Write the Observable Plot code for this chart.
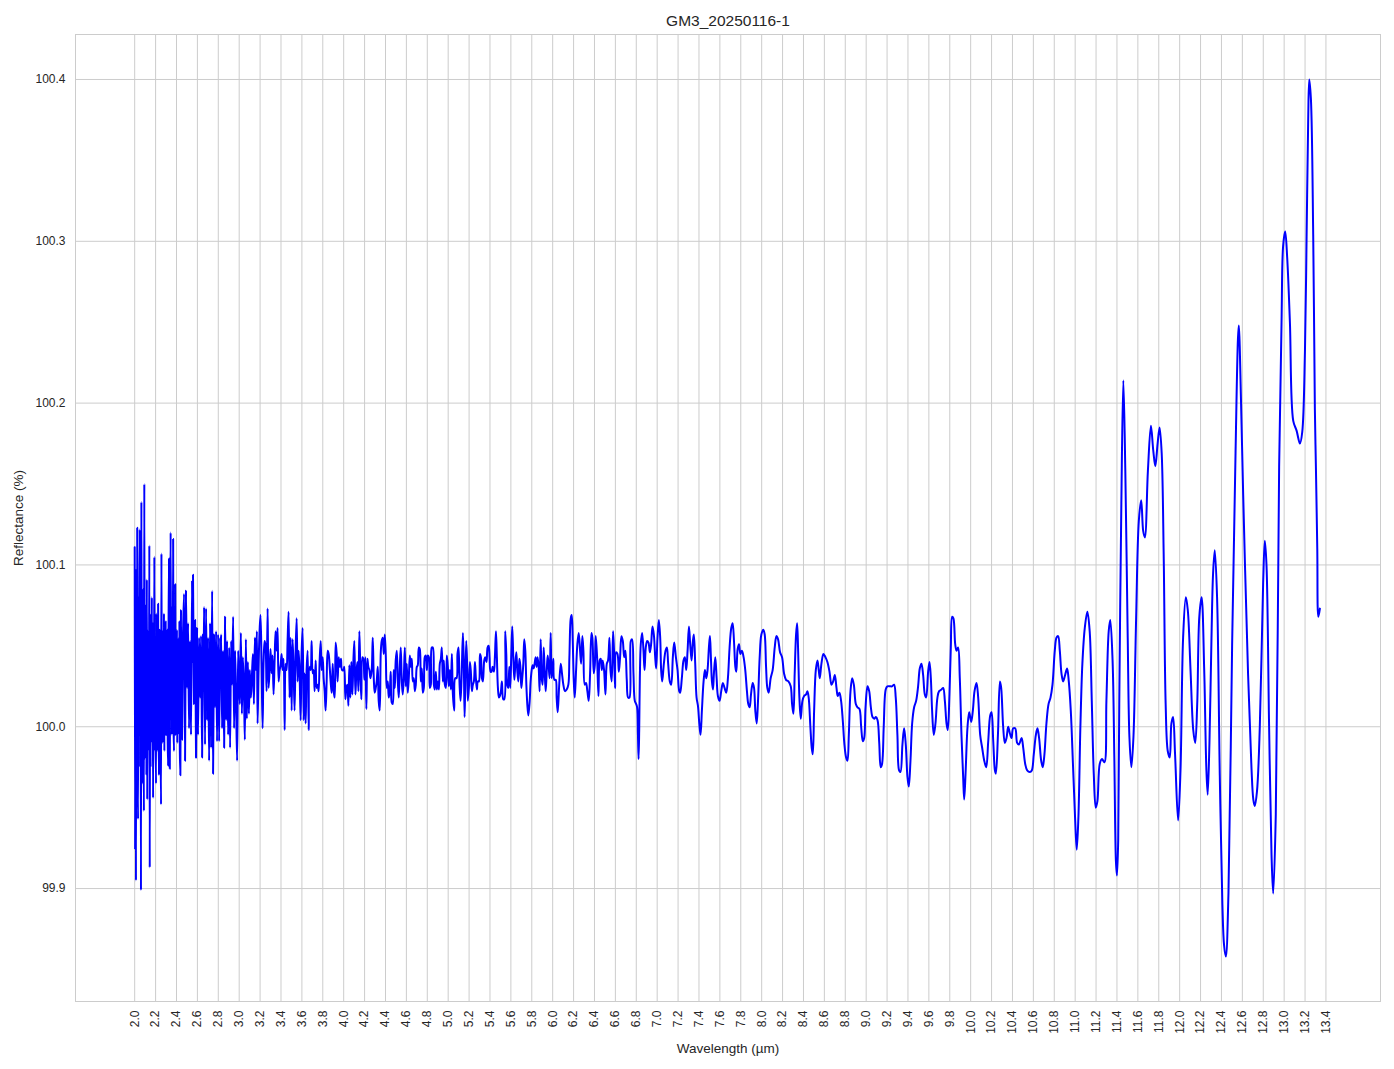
<!DOCTYPE html>
<html>
<head>
<meta charset="utf-8">
<script src="https://cdn.jsdelivr.net/npm/d3@7"></script>
<script src="https://cdn.jsdelivr.net/npm/@observablehq/plot@0.6"></script>
<style>
  html, body { margin: 0; padding: 0; background: #ffffff; }
  #chart { width: 1394px; height: 1069px; }
</style>
</head>
<body>
<div id="chart"></div>
<script>
const chartTitle = "GM3_20250116-1";
const xLabel = "Wavelength (µm)";
const yLabel = "Reflectance (%)";

const xTicks = [2.0,2.2,2.4,2.6,2.8,3.0,3.2,3.4,3.6,3.8,4.0,4.2,4.4,4.6,4.8,5.0,5.2,5.4,5.6,5.8,6.0,6.2,6.4,6.6,6.8,7.0,7.2,7.4,7.6,7.8,8.0,8.2,8.4,8.6,8.8,9.0,9.2,9.4,9.6,9.8,10.0,10.2,10.4,10.6,10.8,11.0,11.2,11.4,11.6,11.8,12.0,12.2,12.4,12.6,12.8,13.0,13.2,13.4];
const yTicks = [99.9, 100.0, 100.1, 100.2, 100.3, 100.4];

// [wavelength µm, reflectance %]
const seg2_0 = [
[2.000,100.111],[2.004,99.924],[2.008,100.098],[2.012,99.905],[2.016,100.072],[2.020,99.985],[2.024,100.123],[2.028,99.970],
[2.032,99.943],[2.036,100.080],[2.040,99.995],[2.044,100.060],[2.048,100.122],[2.052,99.975],[2.056,100.070],[2.060,99.899],
[2.064,100.139],[2.068,99.990],[2.072,100.050],[2.076,99.965],[2.080,100.085],[2.084,100.005],[2.088,99.948],[2.092,100.150],
[2.096,99.980],[2.100,100.065],[2.104,100.000],[2.108,100.075],[2.112,99.970],[2.116,100.091],[2.120,99.955],[2.124,100.060],
[2.128,99.990],[2.132,100.045],[2.136,99.985],[2.140,100.112],[2.144,99.913],[2.148,100.070],[2.152,99.975],[2.156,100.055],
[2.160,99.995],[2.164,100.080],[2.168,99.990],[2.172,100.050],[2.176,99.956],[2.180,100.065],[2.184,100.000],[2.188,100.105],
[2.192,99.985],[2.196,100.045],[2.200,99.990],[2.204,99.965],[2.208,100.070],[2.212,100.005],[2.216,100.050],[2.220,99.985],
[2.224,100.076],[2.228,100.000],[2.232,99.970],[2.236,100.060],[2.240,100.010],[2.244,100.055],[2.248,99.985],[2.252,99.952],
[2.256,100.107],[2.260,100.000],[2.264,100.060],[2.268,99.990],[2.272,100.045],[2.276,100.010],[2.280,100.070],[2.284,99.985],
[2.288,100.050],[2.292,100.005],[2.296,100.065],[2.300,99.995],[2.304,100.040],[2.308,100.010],[2.312,100.060],[2.316,99.990],
[2.320,99.976],[2.324,100.060],[2.328,100.104],[2.332,100.000],[2.336,99.974],[2.340,100.070],[2.344,100.120],[2.348,100.005],
[2.352,100.050],[2.356,99.995],[2.360,100.075],[2.364,100.010],[2.368,100.116],[2.372,100.000],[2.376,99.985],[2.380,100.060],
[2.384,100.010],[2.388,100.088],[2.392,99.995],[2.396,100.050],[2.400,100.005],[2.404,100.060],[2.408,99.990],[2.412,100.045],
[2.416,100.010],[2.420,100.055],[2.424,99.995],[2.428,100.065],[2.432,99.985]
];
const seg2_4 = [
[2.437,99.970],[2.443,100.072],[2.453,99.992],[2.463,100.059],[2.472,100.082],[2.482,99.979],[2.491,100.084],[2.501,100.024],
[2.511,100.064],[2.520,99.999],[2.530,100.053],[2.539,99.995],[2.549,100.090],[2.554,100.040],[2.558,100.094],[2.568,100.014],
[2.578,100.066],[2.587,99.981],[2.597,100.061],[2.606,99.995],[2.616,100.055],[2.626,100.018],[2.635,100.056],[2.645,99.981],
[2.654,100.057],[2.659,100.030],[2.664,100.074],[2.673,99.989],[2.683,100.073],[2.693,100.004],[2.702,100.055],[2.712,99.979],
[2.721,100.064],[2.731,99.987],[2.741,100.084],[2.750,99.971],[2.760,100.057],[2.769,100.012],[2.779,100.059],[2.788,99.991],
[2.798,100.057],[2.808,99.991],[2.817,100.055],[2.822,100.030],[2.827,100.057],[2.836,99.999],[2.846,100.047],[2.856,99.987],
[2.865,100.068],[2.875,100.004],[2.884,100.053],[2.894,99.995],[2.904,100.049],[2.913,99.987],[2.923,100.053],[2.932,100.026],
[2.942,100.068],[2.951,99.999],[2.961,100.047],[2.971,100.012],[2.980,99.979],[2.990,100.047],[2.997,100.030]
];
const seg3_0 = [
[3.006,100.014],[3.016,100.058],[3.026,100.008],[3.035,100.043],[3.045,100.025],[3.054,99.992],[3.064,100.054],[3.073,100.005],
[3.083,100.040],[3.093,100.008],[3.102,100.035],[3.112,100.018],[3.121,100.030],[3.131,100.045],[3.141,100.014],[3.150,100.055],
[3.160,100.035],[3.169,100.059],[3.176,100.002],[3.185,100.035],[3.195,100.059],[3.204,100.069],[3.214,100.039],[3.224,99.999],
[3.233,100.039],[3.243,100.053],[3.252,100.050],[3.262,100.022],[3.272,100.073],[3.281,100.024],[3.291,100.035],[3.300,100.048],
[3.310,100.033],[3.319,100.044],[3.329,100.020],[3.339,100.041],[3.348,100.059],[3.358,100.047],[3.367,100.061],[3.377,100.028],
[3.387,100.035],[3.396,100.038],[3.406,100.045],[3.415,100.035],[3.425,100.042],[3.435,99.998],[3.444,100.039],[3.454,100.035],
[3.463,100.053],[3.473,100.071],[3.482,100.018],[3.492,100.055],[3.502,100.010],[3.511,100.054],[3.521,100.035],[3.530,100.010],
[3.540,100.047],[3.550,100.067],[3.559,100.028],[3.569,100.047],[3.578,100.033],[3.588,100.004],[3.597,100.045],[3.607,100.061],
[3.617,100.004],[3.626,100.033],[3.636,100.002],[3.645,100.035],[3.655,100.047],[3.665,99.998],[3.674,100.037],[3.684,100.035],
[3.693,100.053],[3.703,100.033],[3.712,100.035],[3.722,100.022],[3.732,100.041],[3.741,100.024],[3.751,100.026],[3.760,100.022],
[3.770,100.041],[3.780,100.053],[3.789,100.035],[3.799,100.043],[3.808,100.030],[3.818,100.022],[3.827,100.010],[3.837,100.028],
[3.847,100.047],[3.856,100.045],[3.866,100.037],[3.875,100.028],[3.885,100.021],[3.895,100.039],[3.904,100.022],[3.914,100.018],
[3.923,100.052],[3.933,100.045],[3.942,100.028],[3.952,100.043],[3.962,100.037],[3.974,100.042],[3.984,100.035],[3.997,100.035]
];
const seg4_0 = [
[4.006,100.037],[4.016,100.017],[4.026,100.024],[4.035,100.026],[4.045,100.013],[4.054,100.038],[4.064,100.018],[4.073,100.040],
[4.083,100.020],[4.093,100.041],[4.102,100.053],[4.112,100.020],[4.121,100.033],[4.131,100.040],[4.141,100.022],[4.150,100.059],
[4.160,100.033],[4.169,100.017],[4.179,100.043],[4.188,100.042],[4.198,100.029],[4.208,100.043],[4.217,100.011],[4.227,100.042],
[4.236,100.037],[4.246,100.035],[4.256,100.030],[4.268,100.035],[4.278,100.055],[4.288,100.030],[4.297,100.021],[4.307,100.024],
[4.316,100.028],[4.326,100.037],[4.335,100.016],[4.345,100.010],[4.355,100.046],[4.364,100.053],[4.374,100.055],[4.383,100.045],
[4.393,100.057],[4.403,100.044],[4.412,100.024],[4.422,100.028],[4.431,100.018],[4.441,100.022],[4.450,100.034],[4.460,100.015],
[4.470,100.014],[4.479,100.035],[4.489,100.024],[4.498,100.041],[4.508,100.047],[4.518,100.028],[4.527,100.018],[4.537,100.037],
[4.546,100.049],[4.556,100.028],[4.565,100.020],[4.575,100.030],[4.585,100.049],[4.594,100.025],[4.604,100.039],[4.613,100.021],
[4.623,100.030],[4.633,100.044],[4.642,100.037],[4.652,100.042],[4.661,100.028],[4.671,100.030],[4.681,100.022],[4.690,100.026],
[4.700,100.037],[4.709,100.038],[4.719,100.049],[4.728,100.048],[4.738,100.028],[4.748,100.036],[4.757,100.021],[4.767,100.024],
[4.776,100.043],[4.786,100.044],[4.796,100.035],[4.805,100.044],[4.815,100.043],[4.824,100.024],[4.834,100.026],[4.843,100.049],
[4.853,100.049],[4.863,100.026],[4.872,100.023],[4.882,100.034],[4.891,100.023],[4.901,100.028],[4.911,100.023],[4.920,100.039],
[4.930,100.042],[4.939,100.049],[4.949,100.028],[4.958,100.041],[4.968,100.026],[4.978,100.024],[4.987,100.044],[4.997,100.037]
];
const seg5_0 = [
[5.006,100.025],[5.016,100.035],[5.026,100.023],[5.035,100.045],[5.045,100.020],[5.058,100.010],[5.067,100.030],[5.080,100.030],
[5.089,100.045],[5.099,100.049],[5.109,100.026],[5.118,100.016],[5.128,100.030],[5.141,100.058],[5.150,100.037],[5.157,100.006],
[5.163,100.026],[5.173,100.053],[5.182,100.037],[5.188,100.016],[5.198,100.024],[5.208,100.040],[5.217,100.034],[5.227,100.022],
[5.236,100.026],[5.246,100.028],[5.256,100.040],[5.265,100.030],[5.275,100.023],[5.284,100.028],[5.294,100.028],[5.304,100.045],
[5.313,100.043],[5.323,100.030],[5.332,100.028],[5.345,100.041],[5.355,100.043],[5.367,100.040],[5.377,100.049],[5.387,100.050],
[5.396,100.043],[5.406,100.034],[5.415,100.034],[5.425,100.037],[5.438,100.034],[5.447,100.043],[5.457,100.059],[5.466,100.043],
[5.476,100.024],[5.486,100.018],[5.495,100.019],[5.505,100.022],[5.514,100.028],[5.527,100.017],[5.537,100.017],[5.546,100.059],
[5.556,100.045],[5.565,100.026],[5.575,100.024],[5.585,100.037],[5.594,100.024],[5.604,100.045],[5.613,100.062],[5.623,100.043],
[5.633,100.029],[5.642,100.038],[5.652,100.046],[5.661,100.035],[5.671,100.028],[5.681,100.042],[5.690,100.038],[5.700,100.024],
[5.709,100.030],[5.719,100.039],[5.728,100.054],[5.738,100.047],[5.748,100.026],[5.757,100.014],[5.767,100.007],[5.780,100.016],
[5.789,100.028],[5.799,100.035],[5.808,100.038],[5.818,100.036],[5.827,100.039],[5.837,100.043],[5.847,100.037],[5.856,100.043],
[5.866,100.037],[5.875,100.022],[5.885,100.054],[5.895,100.030],[5.904,100.026],[5.914,100.049],[5.923,100.035],[5.933,100.022],
[5.942,100.033],[5.952,100.044],[5.962,100.037],[5.971,100.030],[5.981,100.058],[5.990,100.030]
];
const seg6_0 = [
[6.006,100.042],[6.016,100.029],[6.029,100.029],[6.038,100.018],[6.048,100.009],[6.061,100.024],[6.077,100.039],[6.089,100.033],
[6.102,100.026],[6.118,100.022],[6.134,100.023],[6.150,100.026],[6.160,100.043],[6.173,100.067],[6.182,100.069],[6.192,100.053],
[6.201,100.030],[6.211,100.018],[6.224,100.035],[6.236,100.051],[6.249,100.058],[6.262,100.047],[6.272,100.039],[6.284,100.056],
[6.294,100.047],[6.307,100.026],[6.319,100.027],[6.332,100.022],[6.345,100.016],[6.358,100.033],[6.371,100.058],[6.380,100.055],
[6.393,100.033],[6.403,100.038],[6.412,100.056],[6.425,100.043],[6.438,100.019],[6.450,100.041],[6.460,100.042],[6.470,100.035],
[6.479,100.041],[6.492,100.035],[6.505,100.020],[6.518,100.039],[6.530,100.041],[6.543,100.055],[6.553,100.035],[6.565,100.028],
[6.578,100.059],[6.588,100.045],[6.597,100.024],[6.607,100.046],[6.620,100.045],[6.633,100.034],[6.645,100.043],[6.658,100.056],
[6.671,100.053],[6.684,100.043],[6.696,100.047],[6.709,100.029],[6.722,100.018],[6.735,100.018],[6.748,100.053],[6.760,100.054],
[6.773,100.033],[6.786,100.016],[6.799,100.014],[6.808,100.012],[6.816,99.995],[6.822,99.980],[6.828,99.998],[6.834,100.030],
[6.843,100.051],[6.856,100.058],[6.869,100.047],[6.879,100.035],[6.891,100.049],[6.904,100.053],[6.917,100.052],[6.930,100.046],
[6.942,100.051],[6.955,100.062],[6.968,100.057],[6.981,100.043],[6.990,100.036]
];
const seg7_0 = [
[7.003,100.055],[7.016,100.066],[7.029,100.055],[7.038,100.035],[7.048,100.028],[7.064,100.039],[7.080,100.047],[7.093,100.049],
[7.105,100.039],[7.121,100.028],[7.134,100.026],[7.150,100.043],[7.163,100.052],[7.179,100.043],[7.195,100.035],[7.211,100.022],
[7.220,100.021],[7.236,100.030],[7.252,100.041],[7.265,100.043],[7.278,100.035],[7.291,100.047],[7.304,100.062],[7.316,100.051],
[7.329,100.041],[7.342,100.053],[7.351,100.057],[7.364,100.039],[7.377,100.018],[7.390,100.013],[7.403,100.002],[7.415,99.995],
[7.428,100.010],[7.444,100.028],[7.457,100.035],[7.470,100.030],[7.482,100.035],[7.495,100.049],[7.505,100.056],[7.514,100.043],
[7.524,100.028],[7.534,100.023],[7.543,100.033],[7.556,100.043],[7.569,100.030],[7.581,100.019],[7.597,100.016],[7.613,100.022],
[7.629,100.027],[7.645,100.024],[7.661,100.021],[7.677,100.030],[7.693,100.049],[7.709,100.061],[7.722,100.064],[7.735,100.053],
[7.748,100.037],[7.757,100.034],[7.770,100.048],[7.783,100.051],[7.796,100.045],[7.811,100.047],[7.827,100.043],[7.843,100.035],
[7.859,100.022],[7.872,100.014],[7.885,100.012],[7.898,100.020],[7.914,100.027],[7.927,100.024],[7.939,100.010],[7.952,100.002],
[7.965,100.016],[7.981,100.043],[7.997,100.057]
];
const seg8_0 = [
[8.016,100.060],[8.029,100.057],[8.042,100.037],[8.054,100.024],[8.067,100.021],[8.086,100.030],[8.105,100.035],[8.125,100.049],
[8.141,100.056],[8.157,100.054],[8.176,100.046],[8.195,100.043],[8.214,100.033],[8.233,100.029],[8.256,100.028],[8.278,100.025],
[8.291,100.014],[8.304,100.008],[8.316,100.033],[8.329,100.057],[8.339,100.064],[8.348,100.049],[8.361,100.018],[8.374,100.005],
[8.390,100.016],[8.406,100.019],[8.425,100.020],[8.438,100.022],[8.450,100.018],[8.466,100.000],[8.479,99.987],[8.489,99.983],
[8.502,100.010],[8.518,100.035],[8.534,100.041],[8.546,100.035],[8.556,100.030],[8.572,100.039],[8.591,100.045],[8.610,100.043],
[8.629,100.040],[8.649,100.034],[8.668,100.026],[8.684,100.028],[8.700,100.032],[8.716,100.024],[8.728,100.019],[8.744,100.021],
[8.760,100.016],[8.776,100.004],[8.792,99.989],[8.808,99.981],[8.821,99.979],[8.834,99.995],[8.850,100.022],[8.866,100.030],
[8.882,100.026],[8.901,100.014],[8.917,100.012],[8.936,100.011],[8.952,100.000],[8.968,99.991],[8.981,99.993],[8.994,100.012],
[9.013,100.025],[9.029,100.022],[9.045,100.012],[9.061,100.006],[9.077,100.005],[9.093,100.006],[9.109,100.004],[9.125,99.990]
];
const seg9_1 = [
[9.139,99.975],[9.152,99.977],[9.168,100.000],[9.187,100.023],[9.203,100.025],[9.226,100.025],[9.248,100.025],[9.267,100.026],
[9.283,100.018],[9.299,99.995],[9.315,99.973],[9.328,99.972],[9.347,99.989],[9.363,99.999],[9.379,99.989],[9.395,99.969],
[9.408,99.963],[9.424,99.979],[9.440,100.002],[9.459,100.012],[9.478,100.016],[9.497,100.025],[9.513,100.036],[9.529,100.039],
[9.545,100.032],[9.561,100.020],[9.574,100.018],[9.593,100.034],[9.606,100.040],[9.619,100.030],[9.631,100.010],[9.647,99.995],
[9.663,100.002],[9.682,100.018],[9.698,100.022],[9.721,100.023],[9.737,100.024],[9.753,100.016],[9.769,100.002],[9.781,99.998],
[9.797,100.020],[9.810,100.049],[9.823,100.068],[9.835,100.067],[9.852,100.051],[9.865,100.047],[9.880,100.049],[9.896,100.030],
[9.912,99.995],[9.928,99.969],[9.938,99.955],[9.951,99.971],[9.970,100.000],[9.986,100.009],[10.005,100.003],[10.021,100.010],
[10.037,100.022],[10.056,100.027],[10.072,100.018],[10.091,99.995],[10.110,99.987],[10.130,99.979],[10.149,99.975],[10.168,99.991],
[10.187,100.007]
];
const seg10_2 = [
[10.200,100.009],[10.216,99.991],[10.232,99.973],[10.241,99.971],[10.261,99.995],[10.280,100.028],[10.292,100.024],[10.311,100.000],
[10.327,99.990],[10.343,99.993],[10.359,100.000],[10.375,99.996],[10.391,99.993],[10.407,99.999],[10.426,99.999],[10.445,99.990],
[10.461,99.989],[10.487,99.993],[10.503,99.987],[10.522,99.977],[10.541,99.973],[10.566,99.972],[10.585,99.973],[10.604,99.983],
[10.624,99.995],[10.639,99.999],[10.655,99.993],[10.675,99.979],[10.690,99.975],[10.706,99.983],[10.725,100.002],[10.745,100.014],
[10.764,100.018],[10.783,100.026],[10.805,100.047],[10.821,100.055],[10.837,100.056],[10.853,100.047],[10.869,100.033],[10.885,100.028],
[10.904,100.032],[10.923,100.036],[10.939,100.028],[10.958,100.010],[10.980,99.975],[10.999,99.944],[11.015,99.924],[11.031,99.944],
[11.050,100.000],[11.069,100.039],[11.092,100.061],[11.117,100.071],[11.139,100.059],[11.159,100.016],[11.178,99.971],[11.197,99.950],
[11.213,99.954],[11.235,99.977],[11.257,99.980],[11.280,99.978],[11.299,100.016],[11.321,100.059]
];
const seg11_3 = [
[11.336,100.066],[11.358,100.041],[11.375,99.980],[11.390,99.917],[11.400,99.908],[11.412,99.930],[11.422,100.014],[11.442,100.138],
[11.461,100.214],[11.480,100.158],[11.503,100.055],[11.519,99.994],[11.538,99.975],[11.558,99.994],[11.583,100.066],[11.609,100.127],
[11.632,100.140],[11.651,100.121],[11.667,100.117],[11.696,100.158],[11.725,100.186],[11.747,100.171],[11.767,100.161],[11.789,100.175],
[11.808,100.185],[11.828,100.169],[11.847,100.107],[11.866,100.014],[11.886,99.985],[11.905,99.981],[11.921,100.002],[11.937,100.006],
[11.956,99.983],[11.985,99.942],[12.008,99.973],[12.033,100.055],[12.059,100.080],[12.078,100.072],[12.104,100.035],[12.130,99.998],
[12.149,99.990],[12.168,100.014]
];
const seg12_2 = [
[12.188,100.068],[12.210,100.080],[12.235,100.035],[12.255,99.975],[12.268,99.958],[12.285,99.990],[12.304,100.053],[12.320,100.095],
[12.336,100.109],[12.358,100.080],[12.384,99.970],[12.409,99.890],[12.425,99.865],[12.442,99.858],[12.467,99.897],[12.502,100.050],
[12.535,100.170],[12.558,100.240],[12.566,100.248],[12.575,100.235],[12.608,100.143],[12.655,100.032],[12.687,99.975],[12.705,99.955],
[12.719,99.951],[12.740,99.960],[12.767,100.000],[12.799,100.089],[12.815,100.115],[12.831,100.100],[12.856,100.000],[12.879,99.921],
[12.895,99.897],[12.920,99.946],[12.952,100.161],[12.975,100.250],[12.990,100.297],[13.010,100.306],[13.029,100.290],[13.055,100.250],
[13.087,100.189],[13.119,100.183],[13.151,100.175],[13.173,100.182],[13.199,100.232],[13.215,100.304],[13.230,100.375],[13.240,100.400],
[13.256,100.388],[13.278,100.304],[13.294,100.196],[13.304,100.160],[13.317,100.110],[13.327,100.068],[13.342,100.073]
];

const spectrum = [seg2_0, seg2_4, seg3_0, seg4_0, seg5_0, seg6_0, seg7_0, seg8_0, seg9_1, seg10_2, seg11_3, seg12_2]
  .flat()
  .map(([w, r]) => ({w, r}));

const W = 1394, H = 1069;
const fontFamily = "'Liberation Sans', Arial, 'DejaVu Sans', sans-serif";

const chart = Plot.plot({
  width: W,
  height: H,
  marginLeft: 75,
  marginRight: 14,
  marginTop: 34,
  marginBottom: 68,
  style: {fontFamily, fontSize: "12px", color: "#262626", background: "#ffffff", overflow: "visible"},
  x: {domain: [1.4335, 13.922], ticks: xTicks, tickFormat: d => d.toFixed(1), tickRotate: -90, tickSize: 0, tickPadding: 9, label: null},
  y: {domain: [99.8302, 100.4278], ticks: yTicks, tickFormat: d => d.toFixed(1), tickSize: 0, tickPadding: 10, label: null},
  marks: [
    Plot.ruleX(xTicks, {stroke: "#cccccc", strokeWidth: 1}),
    Plot.ruleY(yTicks, {stroke: "#cccccc", strokeWidth: 1}),
    Plot.frame({stroke: "#cccccc", strokeWidth: 1}),
    Plot.line(spectrum, {x: "w", y: "r", stroke: "#0000ff", strokeWidth: 2, curve: "catmull-rom"}),
    Plot.text([chartTitle], {text: d => d, frameAnchor: "top", lineAnchor: "middle", textAnchor: "middle", dy: -13, fontSize: 15.5, fill: "#262626"}),
    Plot.text([xLabel], {text: d => d, frameAnchor: "bottom", lineAnchor: "middle", textAnchor: "middle", dy: 47, fontSize: 13.5, fill: "#262626"}),
    Plot.text([yLabel], {text: d => d, frameAnchor: "left", lineAnchor: "middle", textAnchor: "middle", dx: -57, rotate: -90, fontSize: 13.5, fill: "#262626"})
  ]
});

document.getElementById("chart").appendChild(chart);
</script>
</body>
</html>
